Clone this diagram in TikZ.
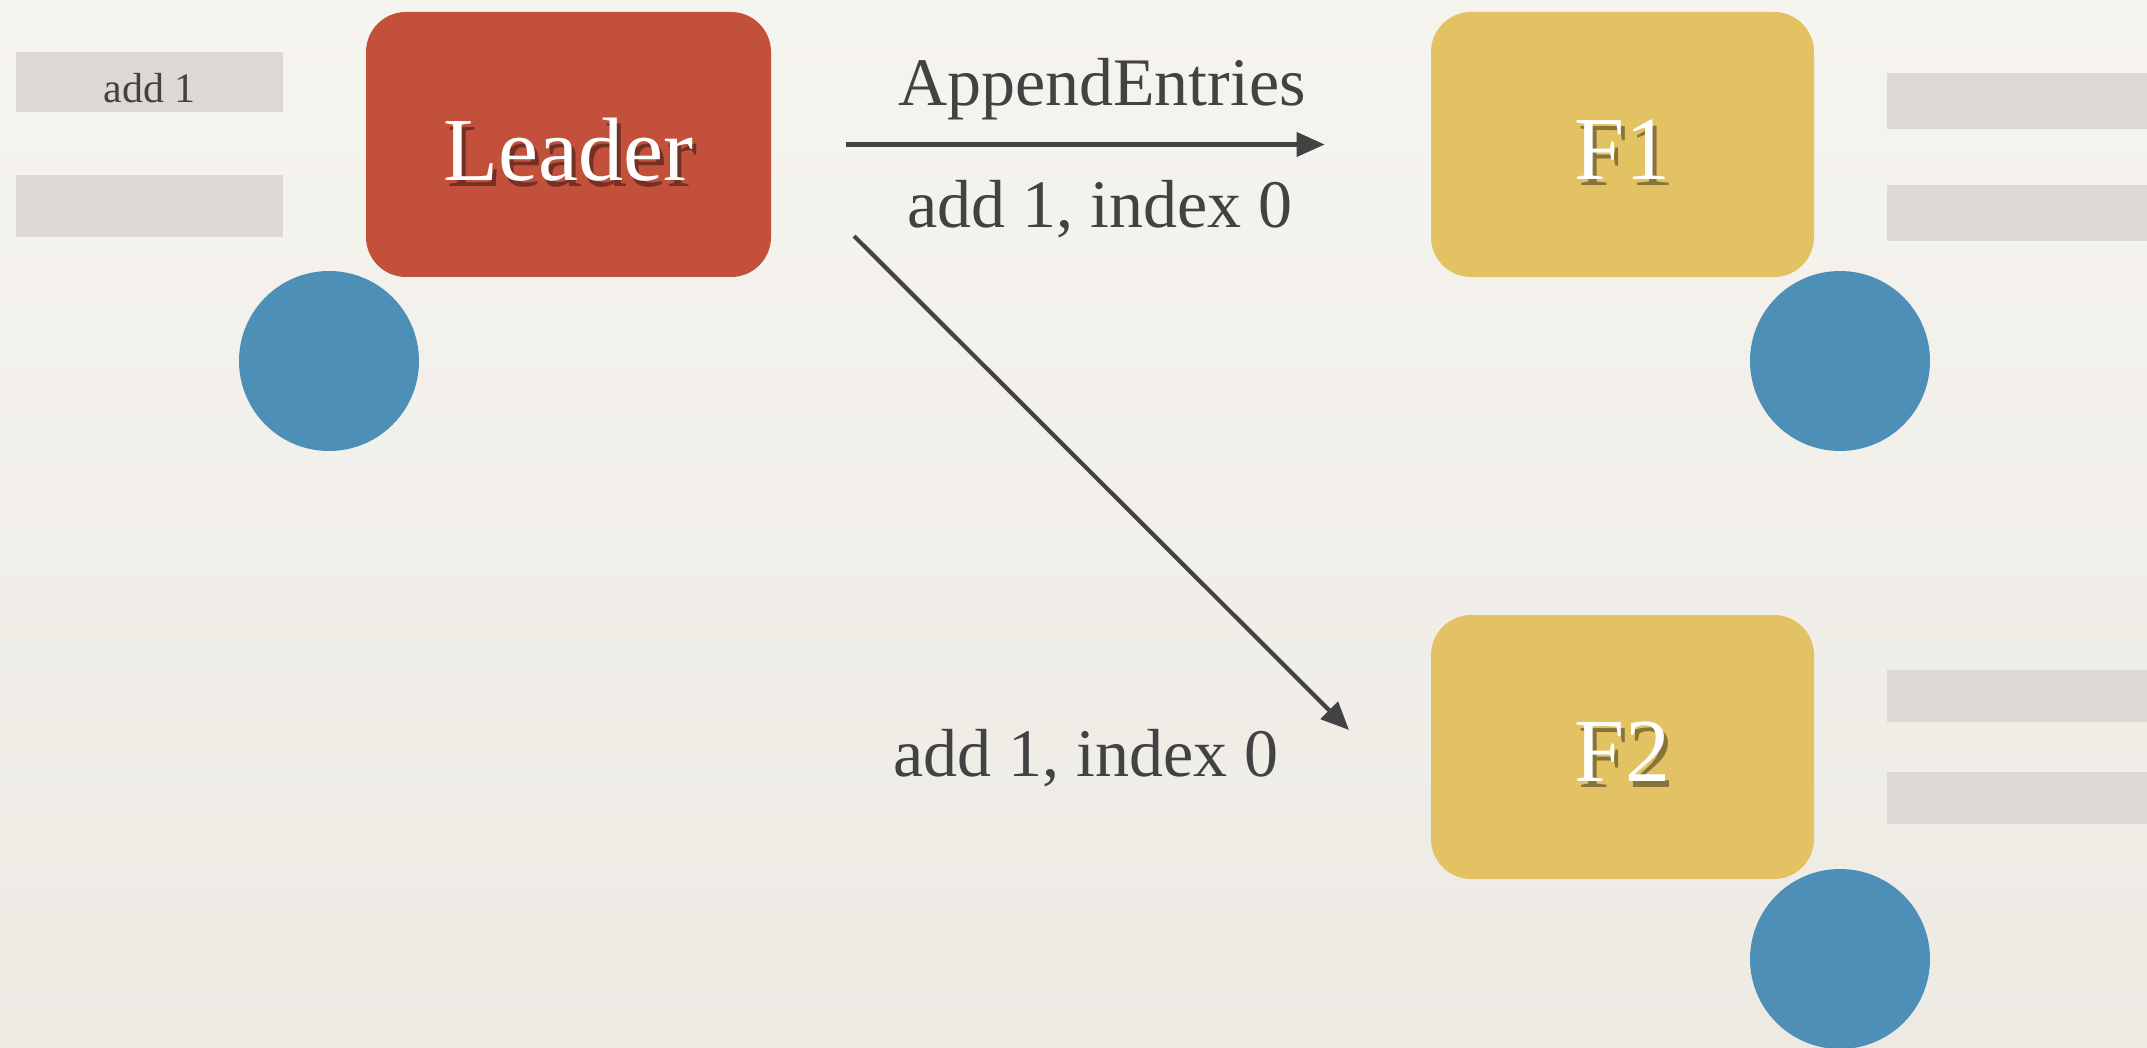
\documentclass[tikz,border=0pt]{standalone}
\usepackage{fontspec}
\setmainfont{Liberation Serif}
\usetikzlibrary{arrows.meta}
\definecolor{bgtop}{HTML}{F6F4EF}
\definecolor{bgmid}{HTML}{E8E5DF}
\definecolor{bgbot}{HTML}{EDEAE4}
\definecolor{leaderred}{HTML}{C2503B}
\definecolor{folyellow}{HTML}{E2C263}
\definecolor{termblue}{HTML}{4D8FB6}
\definecolor{logbar}{HTML}{DCD8D3}
\definecolor{inkgray}{HTML}{424242}
\begin{document}
\begin{tikzpicture}[x=0.5pt,y=-0.5pt,
  srvbox/.style={rectangle, rounded corners=20pt, draw=none, inner sep=0pt,
    path picture={\node[text=black, opacity=0.4, inner sep=0pt, font=\fontsize{45}{54}\selectfont]
      at ([shift={(4,11)}]path picture bounding box.center) {#1};}},
  srvtext/.style={text=white, font=\fontsize{45}{54}\selectfont, inner sep=0pt},
  termdot/.style={circle, fill=termblue, minimum size=90pt, inner sep=0pt},
  logslot/.style={rectangle, fill=logbar, inner sep=0pt},
  slottext/.style={text=inkgray, font=\fontsize{21}{25}\selectfont, inner sep=0pt},
  msglabel/.style={text=inkgray, font=\fontsize{34}{40}\selectfont, inner sep=0pt},
  msgarrow/.style={draw=inkgray, line width=2.1pt, -{Triangle[length=14pt,width=12pt]}}
]
\useasboundingbox (0,0) rectangle (2147,1048);
\clip (0,0) rectangle (2147,1048);
\shade[top color=bgtop, middle color=bgmid, bottom color=bgbot] (0,0) rectangle (2147,1048);

% log slots
\node[logslot, minimum width=133.5pt, minimum height=30pt] (L1) at (149.5,82) {};
\node[slottext] (L1t) at ([yshift=-3pt]L1.center) {add 1};
\node[logslot, minimum width=133.5pt, minimum height=31pt] (L2) at (149.5,206) {};
\node[logslot, minimum width=130pt, minimum height=28pt] (A1) at (2017,101) {};
\node[logslot, minimum width=130pt, minimum height=28pt] (A2) at (2017,213) {};
\node[logslot, minimum width=130pt, minimum height=26pt] (B1) at (2017,696) {};
\node[logslot, minimum width=130pt, minimum height=26pt] (B2) at (2017,798) {};

% servers
\node[srvbox=Leader, fill=leaderred, minimum width=202.5pt, minimum height=132.5pt] (Leader) at (568.5,144.5) {};
\node[srvtext] (LeaderT) at ([yshift=-2.5pt]Leader.center) {Leader};
\node[srvbox=F1, fill=folyellow, minimum width=191.5pt, minimum height=132.5pt] (F1) at (1622.5,144.5) {};
\node[srvtext] (F1T) at ([yshift=-2.5pt]F1.center) {F1};
\node[srvbox=F2, fill=folyellow, minimum width=191.5pt, minimum height=132pt] (F2) at (1622.5,747) {};
\node[srvtext] (F2T) at ([yshift=-2.5pt]F2.center) {F2};

% terms
\node[termdot] (T0) at (329,361) {};
\node[termdot] (T1) at (1840,361) {};
\node[termdot] (T2) at (1840,959) {};

% messages
\draw[msgarrow, shorten <=37.5pt, shorten >=53pt] (Leader.east) -- (F1.west);
\coordinate (d0) at (854,236);
\coordinate (d1) at (1349,730);
\draw[msgarrow] (d0) -- (d1);

\node[msglabel] (m1) at (1102,89) {AppendEntries};
\node[msglabel] (m2) at (1100,209) {add 1, index 0};
\node[msglabel] (m3) at (1086,758) {add 1, index 0};
\end{tikzpicture}
\end{document}
